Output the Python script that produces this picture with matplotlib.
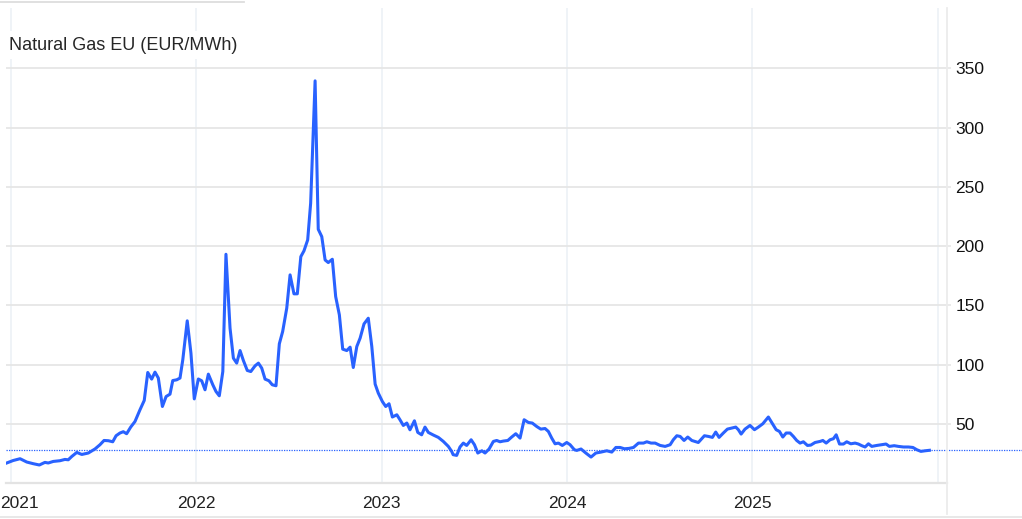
import matplotlib
matplotlib.use("Agg")
import matplotlib.pyplot as plt
from matplotlib.lines import Line2D
from matplotlib.transforms import ScaledTranslation

plt.rcParams['font.family'] = ['Liberation Sans', 'DejaVu Sans']

# time in years since 1 Jan 2021, price in EUR/MWh
t_offset = [-0.023, 0.012, 0.049, 0.085, 0.120, 0.153, 0.183, 0.201, 0.228, 0.264,
            0.291, 0.309, 0.328, 0.355, 0.382, 0.417, 0.453, 0.480, 0.502, 0.525,
            0.549, 0.567, 0.588, 0.606, 0.624, 0.646, 0.669, 0.696, 0.719, 0.738,
            0.759, 0.777, 0.795, 0.817, 0.837, 0.858, 0.873, 0.894, 0.912, 0.927,
            0.951, 0.971, 0.989, 1.011, 1.029, 1.047, 1.065, 1.089, 1.106, 1.124,
            1.143, 1.160, 1.182, 1.200, 1.218, 1.236, 1.254, 1.275, 1.294, 1.317,
            1.335, 1.353, 1.371, 1.392, 1.410, 1.430, 1.448, 1.466, 1.488, 1.506,
            1.527, 1.545, 1.564, 1.581, 1.601, 1.617, 1.641, 1.658, 1.677, 1.695,
            1.712, 1.734, 1.752, 1.772, 1.790, 1.812, 1.830, 1.847, 1.866, 1.884,
            1.905, 1.928, 1.947, 1.965, 1.982, 2.004, 2.022, 2.040, 2.058, 2.082,
            2.099, 2.117, 2.136, 2.153, 2.177, 2.195, 2.216, 2.234, 2.252, 2.279,
            2.306, 2.333, 2.360, 2.378, 2.386, 2.405, 2.423, 2.441, 2.459, 2.483,
            2.501, 2.519, 2.541, 2.558, 2.580, 2.603, 2.621, 2.639, 2.657, 2.681,
            2.702, 2.724, 2.747, 2.769, 2.792, 2.813, 2.837, 2.859, 2.882, 2.900,
            2.918, 2.936, 2.954, 2.975, 2.999, 3.017, 3.040, 3.053, 3.076, 3.102,
            3.130, 3.156, 3.184, 3.215, 3.242, 3.264, 3.287, 3.310, 3.335, 3.359,
            3.386, 3.413, 3.431, 3.454, 3.476, 3.503, 3.530, 3.557, 3.574, 3.593,
            3.611, 3.632, 3.652, 3.674, 3.709, 3.742, 3.764, 3.785, 3.803, 3.821,
            3.844, 3.866, 3.890, 3.911, 3.925, 3.940, 3.961, 3.988, 4.012, 4.033,
            4.057, 4.087, 4.105, 4.129, 4.147, 4.165, 4.183, 4.204, 4.222, 4.240,
            4.258, 4.276, 4.298, 4.316, 4.339, 4.366, 4.381, 4.399, 4.420, 4.438,
            4.453, 4.471, 4.492, 4.510, 4.532, 4.555, 4.573, 4.591, 4.609, 4.627,
            4.645, 4.672, 4.699, 4.722, 4.740, 4.766, 4.789, 4.816, 4.843, 4.867,
            4.888, 4.910, 4.933, 4.956]
price = [16.9, 19.0, 20.5, 17.7, 16.3, 15.2, 17.4, 16.9, 18.2, 18.8,
         19.9, 19.6, 22.4, 25.8, 24.1, 25.3, 28.7, 32.3, 35.9, 35.7,
         34.8, 39.9, 42.2, 43.3, 41.6, 47.2, 51.9, 61.8, 69.7, 93.3,
         87.7, 93.6, 88.6, 64.6, 73.0, 75.0, 86.5, 87.1, 88.6, 104.0,
         136.9, 109.6, 71.0, 87.8, 86.3, 78.7, 91.9, 82.9, 77.3, 73.6,
         94.1, 193.1, 130.7, 105.4, 101.2, 111.8, 103.4, 95.0, 94.1, 98.9,
         101.2, 97.0, 87.7, 86.3, 82.9, 82.1, 117.5, 127.9, 147.6, 175.7,
         159.7, 159.7, 191.1, 196.0, 205.2, 236.2, 339.5, 214.2, 208.0, 188.3,
         186.1, 188.9, 157.4, 141.9, 113.0, 111.8, 114.7, 97.5, 115.2, 122.3,
         134.3, 139.1, 115.2, 83.5, 75.9, 68.8, 64.6, 66.9, 55.7, 57.6,
         53.4, 48.6, 50.6, 44.9, 52.5, 42.7, 40.7, 47.2, 42.7, 40.5,
         38.5, 35.1, 30.9, 26.7, 23.9, 23.3, 30.4, 33.7, 31.7, 36.5,
         32.3, 25.3, 27.2, 25.3, 28.7, 35.1, 35.9, 34.8, 35.4, 35.9,
         38.8, 41.6, 37.9, 53.4, 51.1, 50.6, 47.7, 45.5, 46.0, 43.5,
         37.9, 33.1, 33.7, 31.7, 34.2, 32.3, 28.1, 27.5, 28.7, 25.3,
         21.9, 25.3, 26.1, 27.2, 26.1, 30.0, 30.0, 28.9, 29.2, 30.0,
         33.7, 33.7, 34.8, 33.7, 33.7, 31.7, 30.9, 32.3, 36.5, 39.9,
         39.3, 35.9, 38.8, 35.9, 34.2, 39.9, 39.3, 38.5, 43.0, 38.5,
         42.2, 45.5, 46.4, 47.2, 45.0, 41.3, 45.5, 48.6, 45.0, 47.2,
         50.0, 55.7, 51.1, 45.0, 43.5, 38.8, 42.2, 42.2, 39.3, 35.9,
         33.7, 34.8, 31.7, 32.0, 34.2, 35.1, 35.9, 33.7, 36.5, 37.4,
         40.7, 32.9, 32.9, 34.8, 33.1, 33.7, 32.9, 31.5, 30.4, 33.1,
         30.9, 31.7, 32.3, 32.9, 30.9, 31.5, 30.9, 30.4, 30.4, 30.0,
         28.1, 26.7, 27.2, 27.6]
last_price = 27.6
years = [2021, 2022, 2023, 2024, 2025, 2026]
year_labels = ["2021", "2022", "2023", "2024", "2025", ""]
y_ticks = [50, 100, 150, 200, 250, 300, 350]

t = [2021 + v for v in t_offset]

W, H = 1022, 519
fig = plt.figure(figsize=(W / 100, H / 100), dpi=100)
ax = fig.add_axes([6 / W, (H - 483) / H, (947 - 6) / W, (483 - 8) / H])

ax.plot(t, price, color="#2962ff", lw=2.2, solid_joinstyle="round", zorder=3)
ax.axhline(last_price, xmin=0, xmax=(W - 6) / (947 - 6), color="#2962ff",
           lw=0.9, ls=(0, (1, 1)), clip_on=False, zorder=2)

ax.set_xlim(2020.973, 2026.051)
ax.set_ylim(0, 401)

ax.set_xticks(years)
ax.set_xticklabels(year_labels)
ax.set_yticks(y_ticks)
ax.yaxis.tick_right()

ax.grid(axis="y", color="#e6e6e6", lw=1.3)
ax.grid(axis="x", color="#eef2f7", lw=1.3)
ax.set_axisbelow(True)

ax.tick_params(axis="y", length=3, width=1.2, color="#e6e6e6", pad=3,
               labelsize=12.5, labelcolor="#111111")
ax.tick_params(axis="x", length=0, pad=9, labelsize=12.5, labelcolor="#222222")

# keep the first year label inside the figure
lab0 = ax.get_xticklabels()[0]
lab0.set_horizontalalignment("left")
lab0.set_transform(lab0.get_transform() + ScaledTranslation(-11 / 100, 0, fig.dpi_scale_trans))

for s in ["top", "left", "right"]:
    ax.spines[s].set_visible(False)
ax.spines["bottom"].set_color("#e3e3e3")
ax.spines["bottom"].set_linewidth(1.6)

# frame lines around the chart
fig.add_artist(Line2D([947 / W, 947 / W], [(H - 8) / H, (H - 514) / H],
                      color="#ececec", lw=1.3))
fig.add_artist(Line2D([0, 1], [(H - 517) / H, (H - 517) / H], color="#e6e6e6", lw=1.3))
fig.add_artist(Line2D([0, 244 / W], [(H - 2) / H, (H - 2) / H], color="#dddddd", lw=1.3))

ax.text(3 / 941, (483 - 45) / 475, "Natural Gas EU (EUR/MWh)", transform=ax.transAxes,
        fontsize=13, color="#262626", va="center", ha="left", zorder=5,
        bbox=dict(facecolor="white", edgecolor="none", pad=4))

fig.savefig("out.png", dpi=100)
